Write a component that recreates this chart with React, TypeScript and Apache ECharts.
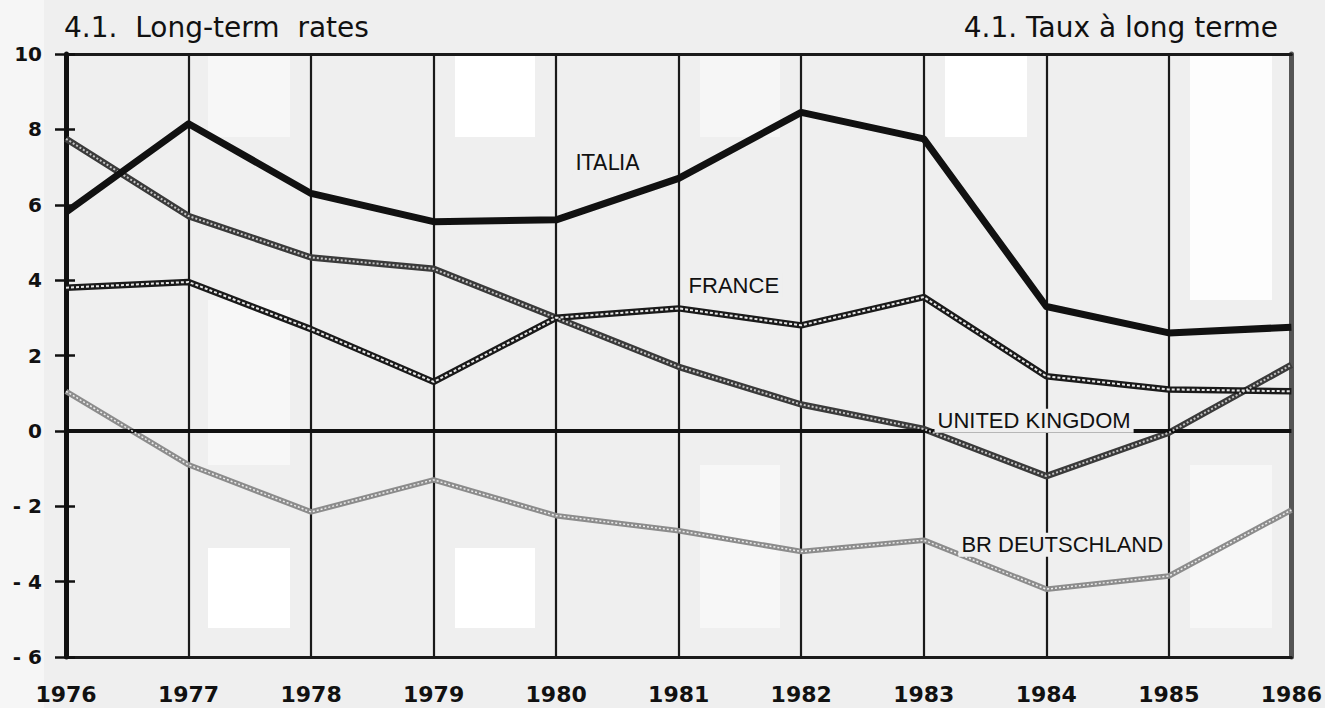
import React, { useEffect, useRef } from "react";
import * as echarts from "echarts";

const years = [1976, 1977, 1978, 1979, 1980, 1981, 1982, 1983, 1984, 1985, 1986];
const italia = [5.8, 8.15, 6.3, 5.55, 5.6, 6.7, 8.45, 7.75, 3.3, 2.6, 2.75];
const unitedKingdom = [7.75, 5.7, 4.6, 4.3, 3.0, 1.7, 0.7, 0.05, -1.2, -0.05, 1.75];
const france = [3.8, 3.95, 2.7, 1.3, 3.0, 3.25, 2.8, 3.55, 1.45, 1.1, 1.05];
const deutschland = [1.05, -0.9, -2.15, -1.3, -2.25, -2.65, -3.2, -2.9, -4.2, -3.85, -2.1];
const yTicks = [-6, -4, -2, 0, 2, 4, 6, 8, 10];

// label anchor positions in data space [year, value]
const labelItalia = [1980.42, 7.1];
const labelFrance = [1981.45, 3.87];
const labelUK = [1983.9, 0.27];
const labelDE = [1984.13, -3.02];

const pairs = (vals: number[]) => years.map((y, i) => [y, vals[i]]);

export default function App() {
  const ref = useRef<HTMLDivElement>(null);
  useEffect(() => {
    if (!ref.current) return;
    const chart = echarts.init(ref.current, null, { renderer: "svg" });
    const bgRects: [number, number, number, number, string][] = [
      [0, 0, 44, 708, "#f6f6f6"],
      [208, 56, 82, 81, "#f7f7f7"],
      [455, 56, 80, 81, "#ffffff"],
      [700, 56, 80, 81, "#f6f6f6"],
      [945, 56, 82, 81, "#ffffff"],
      [1190, 56, 82, 244, "#fdfdfd"],
      [208, 300, 82, 165, "#f7f7f7"],
      [208, 548, 82, 80, "#ffffff"],
      [455, 548, 80, 80, "#ffffff"],
      [700, 465, 80, 163, "#f7f7f7"],
      [1190, 465, 82, 163, "#f7f7f7"],
    ];
    const labelStyle = (font: string, size: number, spacing: number) => ({
      show: true,
      position: "inside",
      color: "#111",
      fontFamily: font,
      fontSize: size,
      letterSpacing: spacing,
      backgroundColor: "#efefef",
      padding: [1, 3],
    });
    const mp = (name: string, coord: number[], font: string, size: number, spacing: number) => ({
      name,
      coord,
      symbol: "rect",
      symbolSize: 0,
      label: { ...labelStyle(font, size, spacing), formatter: name },
    });
    const option: any = {
      animation: false,
      backgroundColor: "#efefef",
      graphic: [
        ...bgRects.map(([x, y, w, h, c]) => ({
          type: "rect",
          z: -10,
          silent: true,
          shape: { x, y, width: w, height: h },
          style: { fill: c },
        })),
        {
          type: "text",
          left: 64,
          top: 13,
          style: { text: "4.1.  Long-term  rates", font: "28px 'DejaVu Sans'", fill: "#111" },
        },
        {
          type: "text",
          right: 47,
          top: 13,
          style: { text: "4.1. Taux à long terme", font: "28px 'DejaVu Sans'", fill: "#111" },
        },
      ],
      grid: { left: 66, right: 27, top: 54, bottom: 51, containLabel: false },
      xAxis: [
        {
          type: "value",
          min: 1976,
          max: 1986,
          interval: 1,
          axisLine: { show: true, onZero: false, lineStyle: { color: "#1a1a1a", width: 3 } },
          axisTick: { show: false },
          axisLabel: {
            margin: 26,
            color: "#111",
            fontFamily: "DejaVu Sans",
            fontWeight: "bold",
            fontSize: 22,
            formatter: (v: number) => String(v),
          },
          splitLine: { show: true, lineStyle: { color: "#1a1a1a", width: 2.2, type: "solid" } },
        },
        {
          type: "value",
          position: "top",
          min: 1976,
          max: 1986,
          interval: 1,
          axisLine: { show: true, onZero: false, lineStyle: { color: "#1a1a1a", width: 3 } },
          axisTick: { show: false },
          axisLabel: { show: false },
          splitLine: { show: false },
        },
      ],
      yAxis: [
        {
          type: "value",
          min: -6,
          max: 10,
          interval: 2,
          position: "left",
          axisLine: { show: true, onZero: false, lineStyle: { color: "#111", width: 5 } },
          axisTick: { show: true, inside: false, length: 11, lineStyle: { color: "#111", width: 2.5 } },
          axisLabel: {
            margin: 24,
            color: "#111",
            fontFamily: "DejaVu Sans",
            fontWeight: "bold",
            fontSize: 20,
            formatter: (v: number) => (yTicks.includes(v) ? (v < 0 ? "- " + Math.abs(v) : String(v)) : ""),
          },
          splitLine: { show: false },
        },
        {
          type: "value",
          min: -6,
          max: 10,
          interval: 2,
          position: "left",
          axisLine: { show: false, onZero: false },
          axisTick: { show: true, inside: true, length: 9, lineStyle: { color: "#111", width: 2.5 } },
          axisLabel: { show: false },
          splitLine: { show: false },
        },
        {
          type: "value",
          min: -6,
          max: 10,
          interval: 2,
          position: "right",
          axisLine: { show: true, onZero: false, lineStyle: { color: "#555", width: 5 } },
          axisTick: { show: false },
          axisLabel: { show: false },
          splitLine: { show: false },
        },
      ],
      series: [
        {
          name: "ITALIA",
          type: "line",
          data: pairs(italia),
          symbol: "none",
          z: 6,
          lineStyle: { color: "#111", width: 7, join: "round" },
          markLine: {
            silent: true,
            symbol: "none",
            label: { show: false },
            lineStyle: { color: "#111", width: 4, type: "solid" },
            data: [{ yAxis: 0 }],
          },
        },
        {
          name: "UNITED KINGDOM",
          type: "line",
          data: pairs(unitedKingdom),
          symbol: "none",
          z: 4,
          lineStyle: { color: "#3a3a3a", width: 6.5 },
        },
        {
          name: "UNITED KINGDOM pattern",
          type: "line",
          data: pairs(unitedKingdom),
          symbol: "none",
          z: 5,
          lineStyle: { color: "#c4c4c4", width: 2, type: [2, 2] },
        },
        {
          name: "FRANCE",
          type: "line",
          data: pairs(france),
          symbol: "none",
          z: 4,
          lineStyle: { color: "#1a1a1a", width: 6.5 },
        },
        {
          name: "FRANCE pattern",
          type: "line",
          data: pairs(france),
          symbol: "none",
          z: 5,
          lineStyle: { color: "#e6e6e6", width: 2, type: [3, 2] },
        },
        {
          name: "BR DEUTSCHLAND",
          type: "line",
          data: pairs(deutschland),
          symbol: "none",
          z: 4,
          lineStyle: { color: "#8c8c8c", width: 5.5 },
        },
        {
          name: "BR DEUTSCHLAND pattern",
          type: "line",
          data: pairs(deutschland),
          symbol: "none",
          z: 5,
          lineStyle: { color: "#ececec", width: 1.5, type: [2, 2] },
          markPoint: {
            silent: true,
            z: 20,
            data: [
              mp("ITALIA", labelItalia, "DejaVu Sans", 21, 2),
              mp("FRANCE", labelFrance, "Liberation Sans", 22, 0),
              mp("UNITED KINGDOM", labelUK, "Liberation Sans", 22, 0),
              mp("BR DEUTSCHLAND", labelDE, "Liberation Sans", 22, 0),
            ],
          },
        },
      ],
    };
    chart.setOption(option);
    return () => chart.dispose();
  }, []);
  return (
    <div
      ref={ref}
      style={{ position: "fixed", left: 0, top: 0, width: 1325, height: 708 }}
    />
  );
}
